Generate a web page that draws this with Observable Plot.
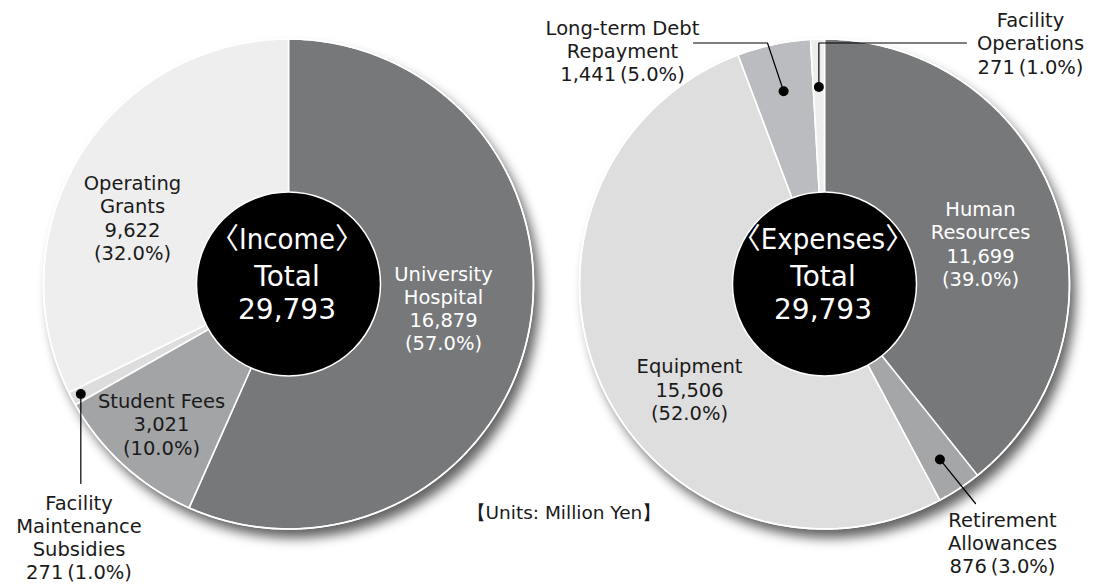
<!DOCTYPE html>
<html><head><meta charset="utf-8">
<script src="https://cdn.jsdelivr.net/npm/d3@7"></script>
<script src="https://cdn.jsdelivr.net/npm/@observablehq/plot@0.6"></script>
<style>body{margin:0;background:#fff;overflow:hidden}</style>
</head><body><div id="chart"></div>
<script>
// ---- data ----
const incomeCategories = ["University Hospital", "Student Fees", "Facility Maintenance Subsidies", "Operating Grants"];
const incomeLabelNames = ["University\nHospital", "Student Fees", "Facility\nMaintenance\nSubsidies", "Operating\nGrants"];
const incomeValues = [16879, 3021, 271, 9622];
const incomePercents = [57.0, 10.0, 1.0, 32.0];

const expenseCategories = ["Human Resources", "Retirement Allowances", "Equipment", "Long-term Debt Repayment", "Facility Operations"];
const expenseLabelNames = ["Human\nResources", "Retirement\nAllowances", "Equipment", "Long-term Debt\nRepayment", "Facility\nOperations"];
const expenseValues = [11699, 876, 15506, 1441, 271];
const expensePercents = [39.0, 3.0, 52.0, 5.0, 1.0];

const titles = ["〈Income〉", "〈Expenses〉"];
const unitsNote = "【Units: Million Yen】";

// ---- layout / style ----
const W = 1098, H = 585, R = 245, R0 = 92;
const FONT = "'DejaVu Sans', sans-serif";
const NARROW = "'Liberation Sans Narrow', 'DejaVu Sans Condensed', 'Noto Sans CJK JP', sans-serif";
const pies = [
  {key: "income", cx: 288, cy: 283.5, title: titles[0]},
  {key: "expenses", cx: 824, cy: 283.5, title: titles[1]}
];
const incomeColors = ["#77787a", "#a3a4a6", "#dddddd", "#eeeeee"];
const expenseColors = ["#77787a", "#a5a6a8", "#dedede", "#bbbcbf", "#eeeeee"];
const dark = "#1a1a1a";
// label anchors (layout); leader: dot radius + extra path points (null x = dot x)
const incomeLayout = [
  {x: 443, y: 307.5, fill: "white"},
  {x: 161, y: 423.5, fill: dark},
  {x: 78.5, y: 536.7, fill: dark, dotR: 235, path: [[null, 483]]},
  {x: 132, y: 217, fill: dark}
];
const expenseLayout = [
  {x: 980, y: 243, fill: "white"},
  {x: 1002, y: 542, fill: dark, dotR: 210, path: [[975, 503]]},
  {x: 689, y: 388.7, fill: dark},
  {x: 622, y: 50, fill: dark, dotR: 197, path: [[767, 42.5], [693, 42.5]]},
  {x: 1030, y: 42.5, fill: dark, dotR: 197, path: [[null, 42.5], [966, 42.5]]}
];

const fmt = d3.format(",");
function build(pie, names, values, pcts, colors, layout) {
  const arcs = d3.pie().sort(null).value(d => d)(values);
  const wedgePts = [], labels = [], dots = [], leaders = [];
  arcs.forEach((a, i) => {
    const id = pie.key + i;
    const n = Math.max(2, Math.ceil((a.endAngle - a.startAngle) / 0.01));
    wedgePts.push({id, x: pie.cx, y: pie.cy, fill: colors[i]});
    for (let k = 0; k <= n; k++) {
      const t = a.startAngle + (a.endAngle - a.startAngle) * k / n;
      wedgePts.push({id, x: pie.cx + R * Math.sin(t), y: pie.cy - R * Math.cos(t), fill: colors[i]});
    }
    const L = layout[i];
    let text;
    if (L.dotR) {
      text = names[i] + "\n" + fmt(values[i]) + "\u2009(" + pcts[i].toFixed(1) + "%)";
      const m = (a.startAngle + a.endAngle) / 2;
      const dx = pie.cx + L.dotR * Math.sin(m), dy = pie.cy - L.dotR * Math.cos(m);
      dots.push({x: dx, y: dy});
      leaders.push({id, x: dx, y: dy});
      L.path.forEach(p => leaders.push({id, x: p[0] == null ? dx : p[0], y: p[1]}));
    } else {
      text = names[i] + "\n" + fmt(values[i]) + "\n(" + pcts[i].toFixed(1) + "%)";
    }
    labels.push({x: L.x, y: L.y, text, fill: L.fill});
  });
  const center = {x: pie.cx - 1.5, y: pie.cy, title: pie.title, total: fmt(d3.sum(values))};
  return {wedgePts, labels, dots, leaders, center};
}

const inc = build(pies[0], incomeLabelNames, incomeValues, incomePercents, incomeColors, incomeLayout);
const exp = build(pies[1], expenseLabelNames, expenseValues, expensePercents, expenseColors, expenseLayout);
const wedgePts = inc.wedgePts.concat(exp.wedgePts);
const labels = inc.labels.concat(exp.labels);
const dots = inc.dots.concat(exp.dots);
const leaders = inc.leaders.concat(exp.leaders);
const centers = [inc.center, exp.center];

const SHADOW_OPACITY = 0.62;
const chart = Plot.plot({
  width: W, height: H, margin: 0,
  x: {domain: [0, W], range: [0, W], axis: null},
  y: {domain: [0, H], range: [0, H], axis: null},
  color: {type: "identity"},
  style: {fontFamily: FONT, background: "white"},
  marks: [
    Plot.dot(pies, {x: "cx", y: "cy", r: R, dx: 6, dy: 9, fill: "#000", fillOpacity: SHADOW_OPACITY}),
    Plot.line(wedgePts, {x: "x", y: "y", z: "id", fill: "fill", stroke: "white", strokeWidth: 1.6, strokeLinejoin: "round", curve: "linear-closed"}),
    Plot.dot(pies, {x: "cx", y: "cy", r: R, stroke: "white", strokeWidth: 1.6, fill: "none"}),
    Plot.dot(pies, {x: "cx", y: "cy", r: R0, fill: "black", stroke: "white", strokeWidth: 1.5}),
    Plot.text(centers, {x: "x", y: "y", dy: -44, text: "title", fill: "white", fontSize: 29, fontFamily: NARROW}),
    Plot.text(centers, {x: "x", y: "y", dy: -6.5, text: () => "Total", fill: "white", fontSize: 28}),
    Plot.text(centers, {x: "x", y: "y", dy: 26, text: "total", fill: "white", fontSize: 28}),
    Plot.line(leaders, {x: "x", y: "y", z: "id", stroke: "black", strokeWidth: 1.2}),
    Plot.dot(dots, {x: "x", y: "y", r: 5, fill: "black"}),
    Plot.text(labels, {x: "x", y: "y", text: "text", fill: "fill", fontSize: 19.5, lineHeight: 1.19}),
    Plot.text([unitsNote], {x: () => 466, y: () => 513, text: d => d, textAnchor: "start", fill: dark, fontSize: 18.5})
  ]
});

// soft drop shadow under the pies: blur the shadow circles
const ns = "http://www.w3.org/2000/svg";
const defs = document.createElementNS(ns, "defs");
const filter = document.createElementNS(ns, "filter");
filter.setAttribute("id", "pieBlur");
filter.setAttribute("x", "-30%"); filter.setAttribute("y", "-30%");
filter.setAttribute("width", "160%"); filter.setAttribute("height", "160%");
const blur = document.createElementNS(ns, "feGaussianBlur");
blur.setAttribute("stdDeviation", "6");
filter.appendChild(blur); defs.appendChild(filter);
chart.insertBefore(defs, chart.firstChild);
const shadowCircles = Array.from(chart.querySelectorAll("circle")).filter(c => {
  const g = c.parentNode;
  const fo = c.getAttribute("fill-opacity") || (g && g.getAttribute("fill-opacity"));
  return fo && Math.abs(+fo - SHADOW_OPACITY) < 1e-6;
});
shadowCircles.forEach(c => c.setAttribute("filter", "url(#pieBlur)"));

document.getElementById("chart").appendChild(chart);
</script>
</body></html>
